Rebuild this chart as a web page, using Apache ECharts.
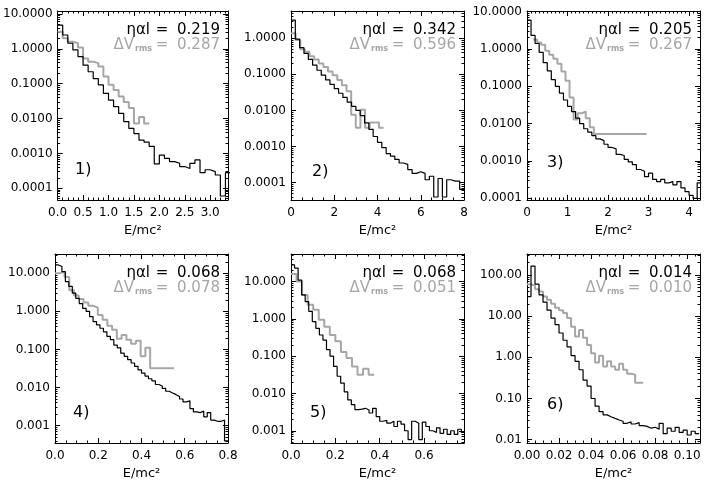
<!DOCTYPE html>
<html>
<head>
<meta charset="utf-8">
<script src="https://cdn.jsdelivr.net/npm/echarts@6/dist/echarts.min.js"></script>
<style>
html, body { margin: 0; padding: 0; background: #fff; }
#main { width: 706px; height: 485px; }
</style>
</head>
<body>
<div id="main"></div>
<script>
// histogram heights, one value per bin (black = eta*alpha*l run, grey = dV_rms run)
var p1Black = [4.8, 2.5, 1.45, 0.93, 0.6, 0.34, 0.22, 0.14, 0.092, 0.053, 0.034, 0.022, 0.014, 0.0082, 0.0052, 0.0037, 0.0024, 0.0021, 0.0016, 0.0005, 0.00089, 0.00072, 0.00058, 0.00052, 0.00042, 0.00037, 0.00052, 0.00065, 0.00028, 0.00034, 0.0003, 0.00024, 0.00006, 0.00028];
var p1Grey = [3.1, 2.0, 1.6, 1.45, 1.1, 0.53, 0.43, 0.39, 0.31, 0.16, 0.093, 0.066, 0.043, 0.03, 0.02, 0.0072, 0.011, 0.0072];
var p2Black = [3.2, 0.95, 0.55, 0.38, 0.26, 0.18, 0.13, 0.095, 0.07, 0.053, 0.04, 0.03, 0.023, 0.017, 0.013, 0.01, 0.0072, 0.0045, 0.003, 0.0019, 0.0013, 0.00093, 0.00064, 0.00054, 0.00044, 0.00035, 0.00032, 0.00023, 0.00018, 0.0002, 0.00018, 0.00012, 0.00015, 0.00004, 0.00013, 0.00004, 0.00012, 0.00011, 0.00011, 0.000065];
var p2Grey = [1.37, 0.9, 0.5, 0.42, 0.32, 0.26, 0.2, 0.16, 0.12, 0.095, 0.07, 0.05, 0.034, 0.0076, 0.0033, 0.0105, 0.0033, 0.0046, 0.0046, 0.0033];
var p3Black = [5.9, 2.3, 1.4, 0.81, 0.43, 0.26, 0.15, 0.1, 0.066, 0.043, 0.029, 0.021, 0.014, 0.01, 0.0073, 0.0059, 0.0048, 0.0039, 0.0035, 0.0028, 0.0023, 0.0021, 0.0015, 0.0014, 0.0011, 0.00094, 0.0008, 0.00059, 0.00053, 0.00038, 0.00047, 0.00032, 0.00028, 0.00032, 0.00026, 0.00028, 0.00023, 0.00028, 0.00019, 0.00015, 0.00012, 0.0001, 0.00026];
var p3Grey = [1.8, 1.5, 1.3, 0.9, 0.7, 0.55, 0.4, 0.25, 0.14, 0.05, 0.013, 0.019, 0.021, 0.014, 0.008, 0.0053, 0.0053, 0.0053, 0.0053, 0.0053, 0.0053, 0.0053, 0.0053, 0.0053, 0.0053, 0.0053, 0.0053, 0.0053];
var p4Black = [16.5, 15, 11, 6, 4.5, 3, 2.2, 1.6, 1.2, 1.0, 0.73, 0.54, 0.44, 0.36, 0.29, 0.22, 0.18, 0.13, 0.11, 0.08, 0.066, 0.054, 0.044, 0.036, 0.029, 0.024, 0.02, 0.017, 0.015, 0.012, 0.011, 0.0095, 0.008, 0.0072, 0.0065, 0.0058, 0.005, 0.0042, 0.0045, 0.0028, 0.0023, 0.0022, 0.0024, 0.0017, 0.0022, 0.0014, 0.0013, 0.0013, 0.0014, 0.0004];
var p4Grey = [10, 11, 8, 3.6, 2.6, 2.1, 1.7, 1.4, 1.25, 0.8, 0.6, 0.42, 0.33, 0.19, 0.24, 0.18, 0.14, 0.17, 0.066, 0.11, 0.032, 0.032, 0.032, 0.032, 0.032];
var p5Black = [28, 23, 11, 4.4, 2.9, 1.6, 0.85, 0.56, 0.37, 0.27, 0.15, 0.1, 0.053, 0.029, 0.019, 0.011, 0.0067, 0.005, 0.0037, 0.0038, 0.004, 0.0036, 0.003, 0.004, 0.0024, 0.0018, 0.0019, 0.0016, 0.0018, 0.0013, 0.0018, 0.0015, 0.001, 0.00058, 0.0018, 0.0016, 0.00058, 0.0017, 0.0013, 0.001, 0.0009, 0.0012, 0.00085, 0.0011, 0.0008, 0.001, 0.0008, 0.0011, 0.0009];
var p5Grey = [16, 10, 4.4, 2.4, 1.75, 0.95, 0.62, 0.37, 0.25, 0.13, 0.09, 0.053, 0.032, 0.046, 0.032];
var p6Black = [30, 165, 60, 33, 22, 14, 9, 6.2, 3.9, 2.6, 1.8, 1.1, 0.8, 0.5, 0.28, 0.2, 0.1, 0.065, 0.048, 0.04, 0.036, 0.033, 0.03, 0.028, 0.025, 0.027, 0.024, 0.026, 0.022, 0.021, 0.019, 0.02, 0.018, 0.025, 0.014, 0.019, 0.016, 0.02, 0.015, 0.017, 0.013, 0.016, 0.014];
var p6Grey = [60, 55, 45, 40, 30, 25, 20, 16, 14, 12, 9, 5.5, 3.2, 4.6, 3.0, 2.0, 1.25, 0.75, 1.1, 0.6, 0.8, 0.6, 0.5, 0.7, 0.5, 0.4, 0.38, 0.24, 0.24];

// y tick labels (decades) per panel
var yTicks1 = [0.0001, 0.001, 0.01, 0.1, 1, 10];
var yTicks2 = [0.0001, 0.001, 0.01, 0.1, 1];
var yTicks3 = [0.0001, 0.001, 0.01, 0.1, 1, 10];
var yTicks4 = [0.001, 0.01, 0.1, 1, 10];
var yTicks5 = [0.001, 0.01, 0.1, 1, 10];
var yTicks6 = [0.01, 0.1, 1, 10, 100];

var etaAlphaL = ['0.219', '0.342', '0.205', '0.068', '0.068', '0.014'];
var deltaVrms = ['0.287', '0.596', '0.267', '0.078', '0.051', '0.010'];
var panelTags = ['1)', '2)', '3)', '4)', '5)', '6)'];

var panels = [
    {black: p1Black, bStart: 0, bWidth: 0.1, grey: p1Grey, gStart: 0, gWidth: 0.1, xMax: 3.35, xInt: 0.5, xMinor: 5, xDec: 1, yMin: 4.6e-5, yMax: 12.2, yDec: 4, yTicks: yTicks1, left: 55, top: 11, tagDx: 20, tagDy: 30},
    {black: p2Black, bStart: 0, bWidth: 0.2, grey: p2Grey, gStart: 0, gWidth: 0.214, xMax: 8, xInt: 2, xMinor: 4, xDec: 0, yMin: 3.3e-5, yMax: 5.7, yDec: 4, yTicks: yTicks2, left: 291, top: 11, tagDx: 21, tagDy: 28},
    {black: p3Black, bStart: 0, bWidth: 0.1, grey: p3Grey, gStart: 0.15, gWidth: 0.1, xMax: 4.27, xInt: 1, xMinor: 10, xDec: 0, yMin: 9e-5, yMax: 10.4, yDec: 4, yTicks: yTicks3, left: 527, top: 11, tagDx: 20, tagDy: 37},
    {black: p4Black, bStart: 0, bWidth: 0.016, grey: p4Grey, gStart: 0, gWidth: 0.022, xMax: 0.8, xInt: 0.2, xMinor: 4, xDec: 1, yMin: 3.5e-4, yMax: 32, yDec: 3, yTicks: yTicks4, left: 55, top: 254, tagDx: 18, tagDy: 30},
    {black: p5Black, bStart: 0, bWidth: 0.016, grey: p5Grey, gStart: 0, gWidth: 0.025, xMax: 0.78, xInt: 0.2, xMinor: 4, xDec: 1, yMin: 4.7e-4, yMax: 55, yDec: 3, yTicks: yTicks5, left: 291, top: 254, tagDx: 19, tagDy: 30},
    {black: p6Black, bStart: 0, bWidth: 0.0025, grey: p6Grey, gStart: 0, gWidth: 0.0025, xMax: 0.108, xInt: 0.02, xMinor: 4, xDec: 2, yMin: 0.0083, yMax: 324, yDec: 2, yTicks: yTicks6, left: 527, top: 254, tagDx: 20, tagDy: 38}
];

var W = 173, H = 189;
var FONT = '"DejaVu Sans", sans-serif';
var GREY = '#a6a6a6';

function stepPoints(start, width, vals) {
    var pts = [];
    for (var i = 0; i < vals.length; i++) {
        pts.push([+(start + i * width).toFixed(6), vals[i]]);
    }
    pts.push([+(start + vals.length * width).toFixed(6), vals[vals.length - 1]]);
    return pts;
}

// 2..9 x 10^k positions inside the axis range, for the small log ticks
function logMinor(min, max) {
    var out = [];
    for (var k = Math.floor(Math.log10(min)); k <= Math.ceil(Math.log10(max)); k++) {
        for (var m = 2; m <= 9; m++) {
            var v = m * Math.pow(10, k);
            if (v > min && v < max) out.push(v);
        }
    }
    return out;
}

var grids = [], xAxes = [], yAxes = [], series = [], graphics = [];

panels.forEach(function (p, i) {
    grids.push({left: p.left, top: p.top, width: W, height: H});

    var xBase = {
        type: 'value', gridIndex: i, min: 0, max: p.xMax, interval: p.xInt,
        splitLine: {show: false},
        axisLine: {show: true, onZero: false, lineStyle: {color: '#000', width: 1}},
        axisTick: {show: true, inside: true, length: 5, lineStyle: {color: '#000'}},
        minorTick: {show: true, splitNumber: p.xMinor, length: 2.5, lineStyle: {color: '#000'}}
    };
    xAxes.push(Object.assign({}, xBase, {
        position: 'bottom',
        name: 'E/mc²', nameLocation: 'middle', nameGap: 24,
        nameTextStyle: {fontFamily: FONT, fontSize: 13, color: '#000'},
        axisLabel: {
            show: true, margin: 7, fontFamily: FONT, fontSize: 12, color: '#000',
            showMaxLabel: Math.abs(p.xMax / p.xInt - Math.round(p.xMax / p.xInt)) < 1e-6,
            formatter: function (v) { return v.toFixed(p.xDec); }
        }
    }));
    xAxes.push(Object.assign({}, xBase, {position: 'top', axisLabel: {show: false}}));

    var minors = logMinor(p.yMin, p.yMax);
    ['left', 'right'].forEach(function (side) {
        yAxes.push({
            type: 'log', logBase: 10, gridIndex: i, position: side, min: p.yMin, max: p.yMax,
            splitLine: {show: false},
            axisLine: {show: true, lineStyle: {color: '#000', width: 1}},
            axisTick: {show: true, inside: true, length: 5, customValues: p.yTicks, lineStyle: {color: '#000'}},
            axisLabel: {
                show: side === 'left', margin: 5, customValues: p.yTicks,
                fontFamily: FONT, fontSize: 12, color: '#000',
                formatter: function (v) { return (+v).toFixed(p.yDec); }
            }
        });
        yAxes.push({
            type: 'log', logBase: 10, gridIndex: i, position: side, min: p.yMin, max: p.yMax,
            splitLine: {show: false},
            axisLine: {show: false},
            axisTick: {show: true, inside: true, length: 2.5, customValues: minors, lineStyle: {color: '#000'}},
            axisLabel: {show: false}
        });
    });

    series.push({
        type: 'line', step: 'end', xAxisIndex: 2 * i, yAxisIndex: 4 * i,
        data: stepPoints(p.gStart, p.gWidth, p.grey),
        symbol: 'none', lineStyle: {color: GREY, width: 2}, z: 2
    });
    series.push({
        type: 'line', step: 'end', xAxisIndex: 2 * i, yAxisIndex: 4 * i,
        data: stepPoints(p.bStart, p.bWidth, p.black),
        symbol: 'none', lineStyle: {color: '#000', width: 1.2}, z: 3
    });

    var R = p.left + W, T = p.top;
    var big = '15px ' + FONT;
    graphics.push(
        {type: 'text', x: R - 78, y: T + 19, style: {text: 'ηαl', font: big, fill: '#000', align: 'right', verticalAlign: 'middle'}},
        {type: 'text', x: R - 66, y: T + 19, style: {text: '=', font: big, fill: '#000', align: 'center', verticalAlign: 'middle'}},
        {type: 'text', x: R - 8, y: T + 19, style: {text: etaAlphaL[i], font: big, fill: '#000', align: 'right', verticalAlign: 'middle'}},
        {type: 'text', x: R - 94, y: T + 34, style: {text: 'ΔV', font: big, fill: GREY, align: 'right', verticalAlign: 'middle'}},
        {type: 'text', x: R - 93, y: T + 38, style: {text: 'rms', font: 'bold 8px ' + FONT, fill: GREY, align: 'left', verticalAlign: 'middle'}},
        {type: 'text', x: R - 66, y: T + 34, style: {text: '=', font: big, fill: GREY, align: 'center', verticalAlign: 'middle'}},
        {type: 'text', x: R - 8, y: T + 34, style: {text: deltaVrms[i], font: big, fill: GREY, align: 'right', verticalAlign: 'middle'}},
        {type: 'text', x: p.left + p.tagDx, y: T + H - p.tagDy, style: {text: panelTags[i], font: '16px ' + FONT, fill: '#000', align: 'left', verticalAlign: 'middle'}}
    );
});

var dom = document.getElementById('main');
var myChart = echarts.init(dom);
var option = {
    backgroundColor: '#fff',
    animation: false,
    grid: grids,
    xAxis: xAxes,
    yAxis: yAxes,
    series: series,
    graphic: graphics
};
myChart.setOption(option, true);
</script>
</body>
</html>
